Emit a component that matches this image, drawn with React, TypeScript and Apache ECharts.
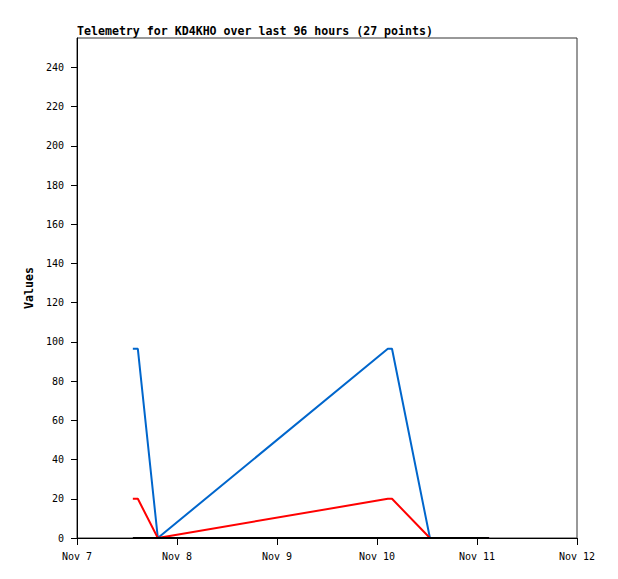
import React, { useEffect, useRef } from "react";
import * as echarts from "echarts";

// hours since Nov 7 00:00
const times = [13.4, 14.6, 19.4, 74.6, 75.6, 84.7, 98.9];
const blueValues = [96.5, 96.5, 0, 96.5, 96.5, 0, 0];
const redValues = [20, 20, 0, 20, 20, 0, 0];
const blackTimes = [13.4, 98.9];
const blackValues = [0, 0];
const xTickLabels = ["Nov 7", "Nov 8", "Nov 9", "Nov 10", "Nov 11", "Nov 12"];
const yTicks = [0, 20, 40, 60, 80, 100, 120, 140, 160, 180, 200, 220, 240];
const titleText = "Telemetry for KD4KHO over last 96 hours (27 points)";

const FONT = "DejaVu Sans Mono";

export default function App() {
  const ref = useRef<HTMLDivElement>(null);
  useEffect(() => {
    document.body.style.margin = "0";
    const chart = echarts.init(ref.current!, null, { renderer: "svg" });
    const pair = (xs: number[], ys: number[]) => xs.map((x, i) => [x, ys[i]]);
    chart.setOption({
      animation: false,
      backgroundColor: "#ffffff",
      title: {
        text: titleText,
        left: 77,
        top: 25,
        padding: 0,
        textStyle: { fontFamily: FONT, fontSize: 11.6, fontWeight: "bold", color: "#000" },
      },
      grid: {
        left: 77,
        top: 38,
        width: 500,
        height: 500,
        show: true,
        borderColor: "#333",
        borderWidth: 1,
        backgroundColor: "transparent",
      },
      xAxis: {
        type: "value",
        min: 0,
        max: 120,
        interval: 24,
        axisLine: { show: true, lineStyle: { color: "#000", width: 1 } },
        axisTick: { show: true, length: 7, inside: false, lineStyle: { color: "#000" } },
        splitLine: { show: false },
        axisLabel: {
          margin: 13,
          fontFamily: FONT,
          fontSize: 10,
          color: "#000",
          formatter: (v: number) => xTickLabels[Math.round(v / 24)] ?? "",
        },
      },
      yAxis: {
        type: "value",
        min: 0,
        max: 255,
        name: "Values",
        nameLocation: "middle",
        nameGap: 37,
        nameTextStyle: { fontFamily: FONT, fontSize: 11.6, fontWeight: "bold", color: "#000" },
        axisLine: { show: true, lineStyle: { color: "#000", width: 1 } },
        axisTick: { show: true, length: 6, customValues: yTicks, lineStyle: { color: "#000" } },
        splitLine: { show: false },
        axisLabel: {
          customValues: yTicks,
          margin: 13,
          fontFamily: FONT,
          fontSize: 10,
          color: "#000",
        },
      },
      series: [
        {
          type: "line",
          data: pair(times, blueValues),
          showSymbol: false,
          symbol: "none",
          lineStyle: { color: "#0066cc", width: 2 },
          z: 3,
        },
        {
          type: "line",
          data: pair(times, redValues),
          showSymbol: false,
          symbol: "none",
          lineStyle: { color: "#ff0000", width: 2 },
          z: 4,
        },
        {
          type: "line",
          data: pair(blackTimes, blackValues),
          showSymbol: false,
          symbol: "none",
          lineStyle: { color: "#000000", width: 2 },
          z: 5,
        },
      ],
    });
    return () => chart.dispose();
  }, []);
  return <div ref={ref} style={{ width: 618, height: 579 }} />;
}
